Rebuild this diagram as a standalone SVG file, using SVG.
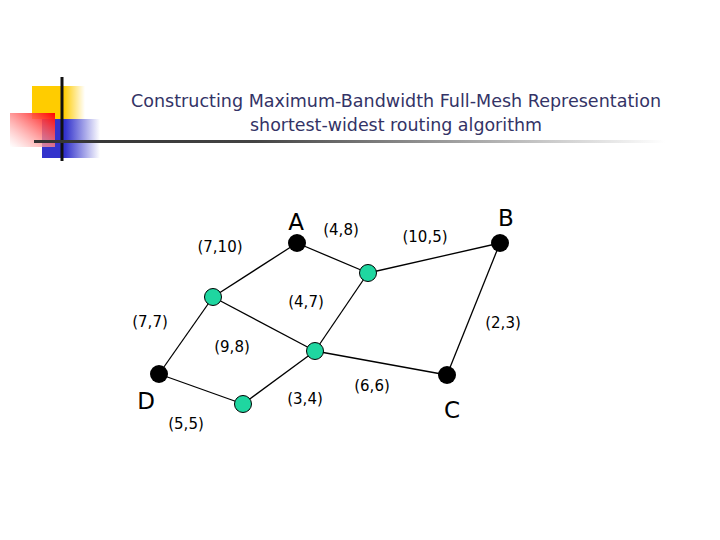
<svg xmlns="http://www.w3.org/2000/svg" width="720" height="540" viewBox="0 0 720 540">
<defs>
<linearGradient id="gy" x1="0" y1="0" x2="1" y2="0"><stop offset="0" stop-color="#ffcc00"/><stop offset="0.6" stop-color="#ffcc00"/><stop offset="1" stop-color="#ffcc00" stop-opacity="0"/></linearGradient>
<linearGradient id="gb" x1="0" y1="0" x2="1" y2="0"><stop offset="0" stop-color="#3333cc"/><stop offset="0.4" stop-color="#3333cc"/><stop offset="1" stop-color="#3333cc" stop-opacity="0"/></linearGradient>
<linearGradient id="gr" x1="0" y1="1" x2="1" y2="0"><stop offset="0" stop-color="#ffffff" stop-opacity="0.6"/><stop offset="1" stop-color="#ff0000"/></linearGradient>
<linearGradient id="gl" x1="34" y1="0" x2="665" y2="0" gradientUnits="userSpaceOnUse"><stop offset="0" stop-color="#333333"/><stop offset="0.35" stop-color="#444444"/><stop offset="1" stop-color="#ffffff"/></linearGradient>
<style>
.e{stroke:#000;stroke-width:1.3;fill:none}
.k{fill:#000}
.g{fill:#1fd6a0;stroke:#000;stroke-width:1}
.t{font-family:"DejaVu Sans","Liberation Sans",sans-serif;fill:#000}
.lb{font-size:15px}
.nm{font-size:23px}
.ti{font-family:"DejaVu Sans","Liberation Sans",sans-serif;font-size:17px;fill:#333366}
</style>
</defs>
<rect width="720" height="540" fill="#fff"/>
<g id="deco">
<rect x="32" y="86" width="53" height="33" fill="url(#gy)"/>
<rect x="42" y="119" width="58" height="39" fill="url(#gb)"/>
<rect x="10" y="113" width="45" height="34" fill="url(#gr)"/>
<line x1="62" y1="77" x2="62" y2="161" stroke="#111" stroke-width="3"/>
<rect x="34" y="140" width="631" height="3" fill="url(#gl)"/>
</g>
<g id="title">
<text class="ti" x="396" y="107" text-anchor="middle" textLength="530" lengthAdjust="spacingAndGlyphs">Constructing Maximum-Bandwidth Full-Mesh Representation</text>
<text class="ti" x="396" y="131" text-anchor="middle" textLength="292" lengthAdjust="spacingAndGlyphs">shortest-widest routing algorithm</text>
</g>
<g id="connectors">
<line class="e" x1="297" y1="243" x2="368" y2="273"/>
<line class="e" x1="368" y1="273" x2="500" y2="243"/>
<line class="e" x1="500" y1="243" x2="447" y2="375"/>
<line class="e" x1="447" y1="375" x2="315" y2="351"/>
<line class="e" x1="315" y1="351" x2="368" y2="273"/>
<line class="e" x1="315" y1="351" x2="213" y2="297"/>
<line class="e" x1="213" y1="297" x2="297" y2="243"/>
<line class="e" x1="213" y1="297" x2="159" y2="374"/>
<line class="e" x1="159" y1="374" x2="243" y2="404"/>
<line class="e" x1="243" y1="404" x2="315" y2="351"/>
</g>
<g id="nodeA"><circle class="k" cx="297" cy="243" r="9"/><text class="t nm" x="296" y="230" text-anchor="middle">A</text></g>
<g id="nodeB"><circle class="k" cx="500" cy="243" r="9"/><text class="t nm" x="506" y="226" text-anchor="middle">B</text></g>
<g id="nodeC"><circle class="k" cx="447" cy="375" r="9"/><text class="t nm" x="452" y="418" text-anchor="middle">C</text></g>
<g id="nodeD"><circle class="k" cx="159" cy="374" r="9"/><text class="t nm" x="146" y="409" text-anchor="middle">D</text></g>
<g id="n1"><circle class="g" cx="368" cy="273" r="8.5"/></g>
<g id="n2"><circle class="g" cx="213" cy="297" r="8.5"/></g>
<g id="n3"><circle class="g" cx="315" cy="351" r="8.5"/></g>
<g id="n4"><circle class="g" cx="243" cy="404" r="8.5"/></g>
<g id="labels" class="t lb" text-anchor="middle">
<text x="341" y="235">(4,8)</text>
<text x="425" y="242">(10,5)</text>
<text x="220" y="252">(7,10)</text>
<text x="306" y="307">(4,7)</text>
<text x="150" y="327">(7,7)</text>
<text x="503" y="328">(2,3)</text>
<text x="232" y="352">(9,8)</text>
<text x="305" y="404">(3,4)</text>
<text x="372" y="391">(6,6)</text>
<text x="186" y="429">(5,5)</text>
</g>
</svg>
